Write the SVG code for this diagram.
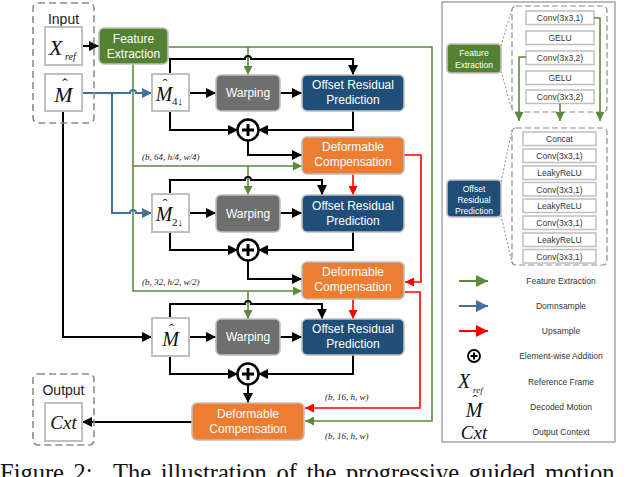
<svg xmlns="http://www.w3.org/2000/svg" width="640" height="477" viewBox="0 0 640 477">
<style>
.sans{font-family:"Liberation Sans",Arial,sans-serif}
.math{font-family:"Liberation Serif","Times New Roman",serif;font-style:italic;fill:#111}
.hat{font-family:"Liberation Serif","Times New Roman",serif;fill:#111}
.wt{font-family:"Liberation Sans",Arial,sans-serif;font-size:12px;fill:#fff;text-anchor:middle}
.lt{font-family:"Liberation Sans",Arial,sans-serif;font-size:8.5px;fill:#fff;text-anchor:middle}
.box{stroke:#bfbfbf;stroke-width:1.6}
.in{fill:#fff;stroke:#bfbfbf;stroke-width:2}
.dash{fill:none;stroke:#8c8c8c;stroke-width:1.6;stroke-dasharray:7 4}
.k{fill:none;stroke:#000;stroke-width:2}
.g{fill:none;stroke:#5a8a3a;stroke-width:1.6}
.b{fill:none;stroke:#41719c;stroke-width:2}
.r{fill:none;stroke:#ff0000;stroke-width:1.6}
.lbl{font-family:"Liberation Serif","Times New Roman",serif;font-style:italic;font-size:9px;fill:#222}
.ly{fill:#fff;stroke:#bfbfbf;stroke-width:1.5}
.lyt{font-family:"Liberation Sans",Arial,sans-serif;font-size:8.5px;fill:#333;text-anchor:middle}
.leg{font-family:"Liberation Sans",Arial,sans-serif;font-size:8.5px;fill:#333;text-anchor:middle}
.dot{fill:none;stroke:#8c8c8c;stroke-width:1;stroke-dasharray:2 2}
</style>
<defs>
<marker id="aK" markerUnits="userSpaceOnUse" markerWidth="10" markerHeight="10" refX="10" refY="5" orient="auto"><path d="M0,0 L10,5 L0,10 z" fill="#000"/></marker>
<marker id="aG" markerUnits="userSpaceOnUse" markerWidth="9" markerHeight="9" refX="9" refY="4.5" orient="auto"><path d="M0,0 L9,4.5 L0,9 z" fill="#5a8a3a"/></marker>
<marker id="aB" markerUnits="userSpaceOnUse" markerWidth="10" markerHeight="10" refX="10" refY="5" orient="auto"><path d="M0,0 L10,5 L0,10 z" fill="#41719c"/></marker>
<marker id="aR" markerUnits="userSpaceOnUse" markerWidth="9" markerHeight="9" refX="9" refY="4.5" orient="auto"><path d="M0,0 L9,4.5 L0,9 z" fill="#ff0000"/></marker>
<marker id="lG" markerUnits="userSpaceOnUse" markerWidth="12" markerHeight="12" refX="12" refY="6" orient="auto"><path d="M0,0 L12,6 L0,12 z" fill="#5a8a3a"/></marker>
<marker id="lB" markerUnits="userSpaceOnUse" markerWidth="12" markerHeight="12" refX="12" refY="6" orient="auto"><path d="M0,0 L12,6 L0,12 z" fill="#41719c"/></marker>
<marker id="lR" markerUnits="userSpaceOnUse" markerWidth="12" markerHeight="12" refX="12" refY="6" orient="auto"><path d="M0,0 L12,6 L0,12 z" fill="#ff0000"/></marker>
</defs>

<g id="connectors">
<path class="g" d="M168,47 H432 V421 H305" marker-end="url(#aG)"/>
<path class="g" d="M248,47 V75" marker-end="url(#aG)"/>
<path class="g" d="M133,64 V291 H302" marker-end="url(#aG)"/>
<path class="g" d="M133,166 H302" marker-end="url(#aG)"/>
<path class="g" d="M248,166 V195" marker-end="url(#aG)"/>
<path class="g" d="M248,291 V319" marker-end="url(#aG)"/>
<path class="b" d="M82,93 H130 A3,3 0 0 1 136,93 H152" marker-end="url(#aB)"/>
<path class="b" d="M112,93 V213 H130 A3,3 0 0 1 136,213 H152" marker-end="url(#aB)"/>
<path class="r" d="M404,155 H421 V282 H405" marker-end="url(#aR)"/>
<path class="r" d="M353,174 V195" marker-end="url(#aR)"/>
<path class="r" d="M405,292 H420 V408 H305" marker-end="url(#aR)"/>
<path class="r" d="M353,299 V319" marker-end="url(#aR)"/>
<path class="k" d="M82,46 H99" marker-end="url(#aK)"/>
<path class="k" d="M189,93 H216" marker-end="url(#aK)"/>
<path class="k" d="M280,93 H302" marker-end="url(#aK)"/>
<path class="k" d="M170,74 V59 H245 A3,3 0 0 1 251,59 H353 V75" marker-end="url(#aK)"/>
<path class="k" d="M170,111 V130 H238" marker-end="url(#aK)"/>
<path class="k" d="M353,111 V130 H258" marker-end="url(#aK)"/>
<path class="k" d="M248,141 V155 H302" marker-end="url(#aK)"/>
<path class="k" d="M170,194 V180 H245 A3,3 0 0 1 251,180 H322 V195" marker-end="url(#aK)"/>
<path class="k" d="M189,213 H216" marker-end="url(#aK)"/>
<path class="k" d="M280,213 H302" marker-end="url(#aK)"/>
<path class="k" d="M170,232 V250 H238" marker-end="url(#aK)"/>
<path class="k" d="M353,232 V250 H258" marker-end="url(#aK)"/>
<path class="k" d="M248,261 V279 H302" marker-end="url(#aK)"/>
<path class="k" d="M63,111 V337 H152" marker-end="url(#aK)"/>
<path class="k" d="M170,318 V304 H245 A3,3 0 0 1 251,304 H322 V319" marker-end="url(#aK)"/>
<path class="k" d="M189,337 H216" marker-end="url(#aK)"/>
<path class="k" d="M280,337 H302" marker-end="url(#aK)"/>
<path class="k" d="M170,356 V374 H238" marker-end="url(#aK)"/>
<path class="k" d="M353,355 V374 H258" marker-end="url(#aK)"/>
<path class="k" d="M248,385 V403" marker-end="url(#aK)"/>
<path class="k" d="M192,422 H82" marker-end="url(#aK)"/>
</g>

<g id="labels">
<text class="lbl" x="142" y="160">(b, 64, h/4, w/4)</text>
<text class="lbl" x="142" y="285">(b, 32, h/2, w/2)</text>
<text class="lbl" x="325" y="400">(b, 16, h, w)</text>
<text class="lbl" x="325" y="439">(b, 16, h, w)</text>
</g>

<g id="input">
<rect class="dash" x="33" y="3" width="61" height="120" rx="5"/>
<text class="sans" x="63.5" y="24" font-size="14" text-anchor="middle" fill="#222">Input</text>
</g>
<g id="xref">
<rect class="in" x="45" y="27" width="37" height="38"/>
<text class="math" x="49" y="55" font-size="22">X</text>
<text class="math" x="65" y="60" font-size="10">ref</text>
</g>
<g id="m_in">
<rect class="in" x="45" y="74" width="37" height="37"/>
<text class="math" x="63.5" y="102" font-size="22" text-anchor="middle">M</text>
<text class="hat" x="65" y="90" font-size="16" text-anchor="middle">ˆ</text>
</g>

<g id="feature_extraction">
<rect class="box" x="99" y="28" width="69" height="36" rx="5" fill="#548235"/>
<text class="wt" x="133.5" y="43">Feature</text>
<text class="wt" x="133.5" y="58">Extraction</text>
</g>

<g id="m4">
<rect class="in" x="152" y="74" width="37" height="37"/>
<text class="math" x="164" y="101" font-size="20" text-anchor="middle">M</text>
<text class="hat" x="165" y="89" font-size="15" text-anchor="middle">ˆ</text>
<text class="hat" x="172" y="105" font-size="11">4↓</text>
</g>
<g id="warp1">
<rect class="box" x="216" y="75" width="64" height="36" rx="5" fill="#6f6f6f"/>
<text class="wt" x="248" y="97">Warping</text>
</g>
<g id="orp1">
<rect class="box" x="302" y="75" width="102" height="36" rx="5" fill="#1f4e79"/>
<text class="wt" x="353" y="89">Offset Residual</text>
<text class="wt" x="353" y="104">Prediction</text>
</g>
<g id="add1">
<circle cx="248" cy="130" r="10.5" fill="#fff" stroke="#000" stroke-width="2.5"/>
<path d="M242,130 H254 M248,124 V136" stroke="#000" stroke-width="3"/>
</g>
<g id="dc1">
<rect class="box" x="302" y="137" width="102" height="37" rx="5" fill="#ed7d31"/>
<text class="wt" x="353" y="151">Deformable</text>
<text class="wt" x="353" y="166">Compensation</text>
</g>

<g id="m2">
<rect class="in" x="152" y="194" width="37" height="38"/>
<text class="math" x="164" y="221" font-size="20" text-anchor="middle">M</text>
<text class="hat" x="165" y="209" font-size="15" text-anchor="middle">ˆ</text>
<text class="hat" x="172" y="226" font-size="11">2↓</text>
</g>
<g id="warp2">
<rect class="box" x="216" y="195" width="64" height="37" rx="5" fill="#6f6f6f"/>
<text class="wt" x="248" y="218">Warping</text>
</g>
<g id="orp2">
<rect class="box" x="302" y="195" width="102" height="37" rx="5" fill="#1f4e79"/>
<text class="wt" x="353" y="210">Offset Residual</text>
<text class="wt" x="353" y="225">Prediction</text>
</g>
<g id="add2">
<circle cx="248" cy="250" r="10.5" fill="#fff" stroke="#000" stroke-width="2.5"/>
<path d="M242,250 H254 M248,244 V256" stroke="#000" stroke-width="3"/>
</g>
<g id="dc2">
<rect class="box" x="302" y="262" width="102" height="37" rx="5" fill="#ed7d31"/>
<text class="wt" x="353" y="276">Deformable</text>
<text class="wt" x="353" y="291">Compensation</text>
</g>

<g id="m1">
<rect class="in" x="152" y="318" width="37" height="38"/>
<text class="math" x="170.5" y="346" font-size="20" text-anchor="middle">M</text>
<text class="hat" x="171.5" y="334" font-size="15" text-anchor="middle">ˆ</text>
</g>
<g id="warp3">
<rect class="box" x="216" y="319" width="64" height="36" rx="5" fill="#6f6f6f"/>
<text class="wt" x="248" y="341">Warping</text>
</g>
<g id="orp3">
<rect class="box" x="302" y="319" width="102" height="36" rx="5" fill="#1f4e79"/>
<text class="wt" x="353" y="333">Offset Residual</text>
<text class="wt" x="353" y="348">Prediction</text>
</g>
<g id="add3">
<circle cx="248" cy="374" r="10.5" fill="#fff" stroke="#000" stroke-width="2.5"/>
<path d="M242,374 H254 M248,368 V380" stroke="#000" stroke-width="3"/>
</g>
<g id="dc3">
<rect class="box" x="192" y="403" width="112" height="37" rx="5" fill="#ed7d31"/>
<text class="wt" x="248" y="418">Deformable</text>
<text class="wt" x="248" y="433">Compensation</text>
</g>

<g id="output">
<rect class="dash" x="33" y="374" width="61" height="71" rx="5"/>
<text class="sans" x="63.5" y="395" font-size="14" text-anchor="middle" fill="#222">Output</text>
<rect class="in" x="45" y="403" width="37" height="38"/>
<text class="math" x="63.5" y="429" font-size="19" text-anchor="middle">Cxt</text>
</g>

<g id="legend_panel">
<rect x="442" y="2" width="173" height="440" fill="none" stroke="#a6a6a6" stroke-width="1.5"/>
</g>
<g id="fe_detail">
<rect class="dash" x="512" y="6" width="95" height="106" rx="4" style="stroke-width:1.2;stroke-dasharray:6 3"/>
<path class="dot" d="M501,46 L512,8 M501,71 L512,110"/>
<rect class="box" x="447" y="44" width="54" height="29" rx="4" fill="#548235"/>
<text class="lt" x="474" y="56">Feature</text>
<text class="lt" x="474" y="68">Extraction</text>
<rect class="ly" x="526" y="11" width="68" height="13.5"/>
<text class="lyt" x="560" y="21">Conv(3x3,1)</text>
<rect class="ly" x="526" y="31" width="68" height="13.5"/>
<text class="lyt" x="560" y="41">GELU</text>
<rect class="ly" x="526" y="51" width="68" height="13.5"/>
<text class="lyt" x="560" y="61">Conv(3x3,2)</text>
<rect class="ly" x="526" y="71" width="68" height="13.5"/>
<text class="lyt" x="560" y="81">GELU</text>
<rect class="ly" x="526" y="90" width="68" height="13.5"/>
<text class="lyt" x="560" y="100">Conv(3x3,2)</text>
<path class="g" d="M594,18 H600 V121" marker-end="url(#aG)"/>
<path class="g" d="M526,57 H519 V121" marker-end="url(#aG)"/>
<path class="g" d="M560,103.5 V121" marker-end="url(#aG)"/>
</g>
<g id="orp_detail">
<rect class="dash" x="512" y="128" width="95" height="137" rx="4" style="stroke-width:1.2;stroke-dasharray:6 3"/>
<path class="dot" d="M501,182 L512,130 M501,215 L512,263"/>
<rect class="box" x="447" y="180" width="54" height="37" rx="4" fill="#1f4e79"/>
<text class="lt" x="474" y="192">Offset</text>
<text class="lt" x="474" y="203">Residual</text>
<text class="lt" x="474" y="214">Prediction</text>
<rect class="ly" x="523" y="132" width="73" height="13.5"/>
<text class="lyt" x="559.5" y="142">Concat</text>
<rect class="ly" x="523" y="149" width="73" height="13.5"/>
<text class="lyt" x="559.5" y="159">Conv(3x3,1)</text>
<rect class="ly" x="523" y="166" width="73" height="13.5"/>
<text class="lyt" x="559.5" y="176">LeakyReLU</text>
<rect class="ly" x="523" y="182.5" width="73" height="13.5"/>
<text class="lyt" x="559.5" y="192.5">Conv(3x3,1)</text>
<rect class="ly" x="523" y="199" width="73" height="13.5"/>
<text class="lyt" x="559.5" y="209">LeakyReLU</text>
<rect class="ly" x="523" y="216" width="73" height="13.5"/>
<text class="lyt" x="559.5" y="226">Conv(3x3,1)</text>
<rect class="ly" x="523" y="233" width="73" height="13.5"/>
<text class="lyt" x="559.5" y="243">LeakyReLU</text>
<rect class="ly" x="523" y="249.5" width="73" height="13.5"/>
<text class="lyt" x="559.5" y="259.5">Conv(3x3,1)</text>
</g>
<g id="legend">
<path d="M459,281 H488" stroke="#5a8a3a" stroke-width="2" marker-end="url(#lG)"/>
<text class="leg" x="561" y="284">Feature Extraction</text>
<path d="M459,306 H488" stroke="#41719c" stroke-width="2" marker-end="url(#lB)"/>
<text class="leg" x="561" y="309">Domnsample</text>
<path d="M459,331 H488" stroke="#ff0000" stroke-width="2" marker-end="url(#lR)"/>
<text class="leg" x="561" y="334">Upsample</text>
<circle cx="474" cy="356" r="6" fill="#fff" stroke="#000" stroke-width="1.8"/>
<path d="M470.5,356 H477.5 M474,352.5 V359.5" stroke="#000" stroke-width="2"/>
<text class="leg" x="561" y="359">Element-wise Addition</text>
<text class="math" x="458" y="388" font-size="20">X</text>
<text class="math" x="473" y="393" font-size="9">ref</text>
<text class="leg" x="561" y="385">Reference Frame</text>
<text class="math" x="474" y="417" font-size="20" text-anchor="middle">M</text>
<text class="hat" x="475" y="405" font-size="15" text-anchor="middle">ˆ</text>
<text class="leg" x="561" y="410">Decoded Motion</text>
<text class="math" x="474" y="439" font-size="19" text-anchor="middle">Cxt</text>
<text class="leg" x="561" y="435">Output Context</text>
</g>

<text x="0" y="481" font-family="'Liberation Serif','Times New Roman',serif" font-size="24.5" fill="#111" word-spacing="3.5">Figure 2:<tspan x="113">The illustration of the progressive guided motion</tspan></text>
</svg>
